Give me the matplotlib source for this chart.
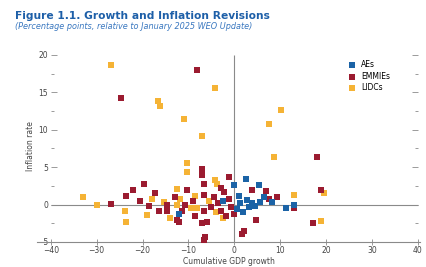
import numpy as np
import matplotlib.pyplot as plt
from matplotlib.ticker import MultipleLocator

# --------------------------------------------------------------
# Data (percentage points)
# --------------------------------------------------------------
ae_x = [0.0, 2.5, 5.4, 1.1, 2.8, 3.2, 3.9, 1.3, 8.3, 5.7, 11.2, 13.0, 0.5, 2.0, 6.5, -12.0, -2.5, 4.5]
ae_y = [2.6, 3.4, 2.6, 1.1, 0.6, -0.3, 0.2, 0.2, 0.4, 0.4, -0.4, -0.1, -0.6, -1.0, 1.0, -1.2, 0.5, -0.2]

em_x = [-8.1, -24.8, -7.0, 18.0, 18.8, 17.1, 4.7, 2.1, 1.7, -1.1, 7.0, 3.9, 9.3, 7.6, -7.0, -6.6,
        -19.7, -23.5, -22.0, -26.8, -12.1, -17.3, -16.4, -14.7, -14.7, -10.3, -10.7, -11.4, -12.5,
        -7.0, -6.6, -6.6, -6.6, -5.9, -6.4, -2.2, -1.1, -0.8, 0.0, 13.1, -3.5, -2.8, -1.8, -4.5,
        -3.0, -9.0, -8.5, -18.5, -5.0, -13.0, -20.5]
em_y = [18.0, 14.2, 4.7, 6.4, 2.0, -2.5, -2.0, -3.6, -3.9, 3.7, 1.8, 1.9, 1.0, 0.7, -2.5, -4.7,
        2.8, 1.2, 2.0, 0.1, -2.3, 1.5, -0.9, -0.9, 0.0, 2.0, 0.0, -0.9, -2.1,
        4.0, 2.7, 1.3, -0.9, -2.3, -4.3, 1.7, 0.8, -0.3, -1.2, -0.5, 0.2, -0.8, -1.5, 1.0,
        2.2, 0.5, -1.5, -0.2, -0.3, 1.0, 0.5]

li_x = [-26.8, -16.6, -16.2, -11.0, -7.0, -10.3, -4.2, 10.1, 7.6, 8.7, 19.5, 13.1, 18.9, -30.0,
        -23.9, -23.5, -19.0, -18.0, -15.4, -12.5, -11.8, -12.5, -10.3, -8.6, -8.1, -4.2, -3.7,
        -5.5, -4.0, -9.5, -2.5, -14.0, -33.0]
li_y = [18.7, 13.9, 13.2, 11.4, 9.2, 5.5, 15.6, 12.6, 10.8, 6.3, 1.5, 1.3, -2.2, 0.0,
        -0.9, -2.3, -1.4, 0.7, 0.4, 2.1, 0.8, 0.0, 4.4, 1.1, -0.4, 3.3, 2.7,
        0.5, -1.0, -0.5, -1.8, -1.8, 1.0]

groups = ["AEs", "EMMIEs", "LIDCs"]
colors = {"AEs": "#1b63a6", "EMMIEs": "#9b1b30", "LIDCs": "#f5b335"}

# --------------------------------------------------------------
# Figure
# --------------------------------------------------------------
fig = plt.figure(figsize=(4.27, 2.67), dpi=100)
ax = fig.add_axes([0.0867, 0.0854, 0.897, 0.737])

ax.hlines(0, -40, 40, color="#8a8a8a", lw=0.8, zorder=1)
ax.vlines(0, -5, 20, color="#8a8a8a", lw=0.8, zorder=1)

ax.scatter(li_x, li_y, s=16, marker="s", color=colors["LIDCs"], lw=0, zorder=2, label="LIDCs")
ax.scatter(em_x, em_y, s=16, marker="s", color=colors["EMMIEs"], lw=0, zorder=3, label="EMMIEs")
ax.scatter(ae_x, ae_y, s=16, marker="s", color=colors["AEs"], lw=0, zorder=4, label="AEs")

ax.set_xlim(-43, 40.5)
ax.set_ylim(-5.3, 21)

ax.spines["top"].set_visible(False)
ax.spines["left"].set_position(("data", -40))
ax.spines["left"].set_visible(False)
ax.spines["right"].set_position(("data", 40))
ax.spines["right"].set_visible(False)
ax.spines["bottom"].set_position(("data", -5))
ax.spines["bottom"].set_color("#8a8a8a")
ax.spines["bottom"].set_linewidth(0.8)

ax.set_xticks(np.arange(-40, 41, 10))
ax.set_yticks(np.arange(-5, 21, 5))
ax.yaxis.set_minor_locator(MultipleLocator(2.5))
ax.tick_params(axis="y", which="both", left=True, right=True, direction="in",
               color="#8a8a8a", labelsize=5.5, labelcolor="#444444", pad=2)
ax.tick_params(axis="y", which="major", length=4, width=0.6)
ax.tick_params(axis="y", which="minor", length=2.5, width=0.6)
ax.tick_params(axis="x", direction="inout", length=4, width=0.6, color="#8a8a8a",
               labelsize=5.5, labelcolor="#444444", pad=1)

ax.set_xlabel("Cumulative GDP growth", fontsize=5.5, color="#444444", labelpad=1)
ax.set_ylabel("Inflation rate", fontsize=5.5, color="#444444", labelpad=1)

h, l = ax.get_legend_handles_labels()
order = [l.index(g) for g in groups]
ax.legend([h[i] for i in order], [l[i] for i in order], loc="upper right",
          bbox_to_anchor=(0.93, 0.95), frameon=False, fontsize=5.5,
          handletextpad=0.2, labelspacing=0.3, borderaxespad=0, markerscale=1.0)

fig.text(0.035, 0.93, "Figure 1.1. Growth and Inflation Revisions", fontsize=7.7,
         fontweight="bold", color="#1d5fa8")
fig.text(0.035, 0.89, "(Percentage points, relative to January 2025 WEO Update)",
         fontsize=5.9, style="italic", color="#3a78c0")

fig.savefig("out.png", dpi=100)
